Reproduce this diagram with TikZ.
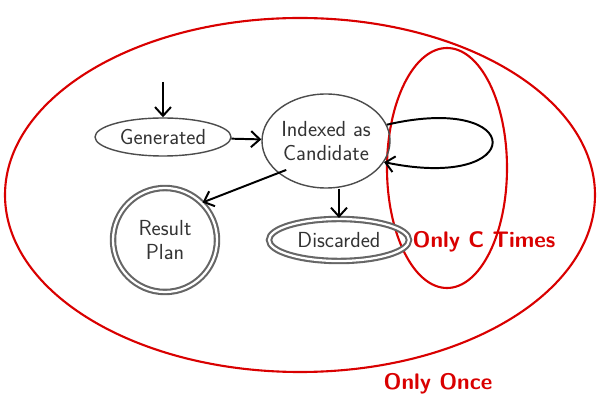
\documentclass[tikz,border=0pt]{standalone}
\usepackage{tikz}
\usetikzlibrary{
	positioning,
	arrows.meta,
	shapes.geometric
}

\begin{document}
\begin{tikzpicture}[
				state/.style={ellipse, draw=black!70, line width=1pt, text=black!80, font=\sffamily\fontsize{15.5}{17.5}\selectfont, inner sep=0pt, align=center},
				final/.style={state, draw=black!60, double=white, double distance=1.6pt, line width=1.5pt},
				trans/.style={-{Straight Barb[length=2.2mm, width=4mm]}, line width=1.4pt},
				region/.style={draw=red!85!black, line width=1.5pt},
				note/.style={text=red!85!black, font=\sffamily\bfseries\fontsize{16}{18}\selectfont}
			]
				% Rahmen
				\useasboundingbox (0,0) rectangle (15,10.1);

				% Bereiche
				\draw[region] (7.5,5.225) ellipse (7.375 and 4.425);
				\draw[region] (11.175,5.9) ellipse (1.5 and 3);

				% Zustaende
				\node[state, minimum width=3.4cm, minimum height=0.95cm] (gen) at (4.075,6.675) {Generated};
				\node[state, minimum width=3.2cm, minimum height=2.35cm] (idx) at (8.15,6.575) {Indexed as\\Candidate};
				\node[final, circle, minimum size=2.6cm] (res) at (4.125,4.1) {Result\\Plan};
				\node[final, minimum width=3.5cm, minimum height=1.05cm] (dis) at (8.475,4.1) {Discarded};

				% Start
				\coordinate (start) at (4.075,8.05);
				\draw[trans] (start) -- (gen);

				% Uebergaenge
				\draw[trans] (gen) -- (idx);
				\draw[trans] (idx.south west) ++ (0.15,0.12) -- (res.north east);
				\draw[trans] (idx.south -| dis.north) -- (dis.north);
				\draw[trans] (idx.15) .. controls (13.2,7.8) and (13.2,5.3) .. (idx.-20);

				% Beschriftung
				\node[note] (ctimes) at (12.1,4.05) {Only C Times};
				\node[note] (once) at (10.95,0.5) {Only Once};
			\end{tikzpicture}
\end{document}
